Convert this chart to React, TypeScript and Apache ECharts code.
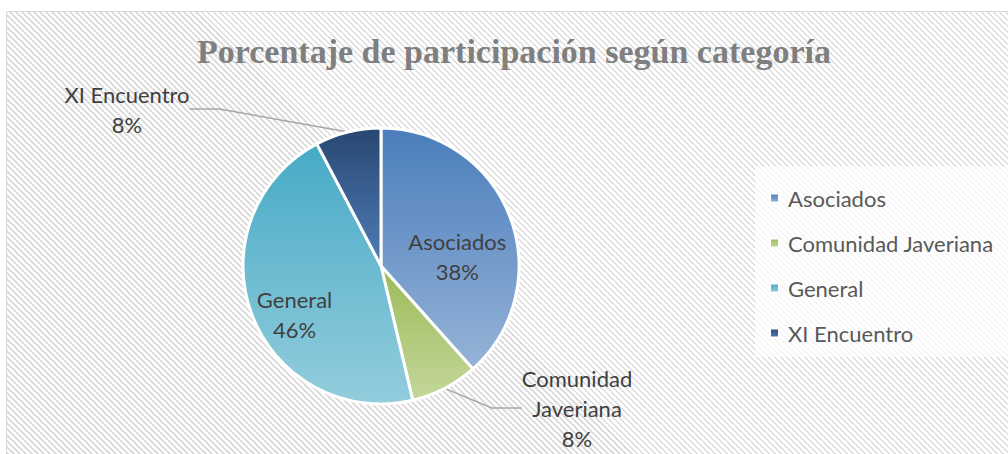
import React, { useEffect, useRef } from 'react';
import * as echarts from 'echarts';

const titleText = 'Porcentaje de participación según categoría';
const categories = ['Asociados', 'Comunidad Javeriana', 'General', 'XI Encuentro'];
const labelNames = ['Asociados', 'Comunidad\nJaveriana', 'General', 'XI Encuentro'];
const values = [38.4, 7.9, 46.0, 7.7];
const topColors = ['#4a7dbb', '#9bbb59', '#47aac5', '#284771'];
const bottomColors = ['#95b3d7', '#c4d79b', '#93cddd', '#4f7db8'];

const FONT = 'Lato';

export default function App() {
  const ref = useRef<HTMLDivElement>(null);

  useEffect(() => {
    if (!ref.current) return;
    const chart = echarts.init(ref.current, undefined, { renderer: 'svg' });

    const labelCfg: any[] = [
      { position: 'inside', offset: [9, 16] },
      { position: 'outside' },
      { position: 'inside', offset: [-19, 23] },
      { position: 'outside' },
    ];

    const data = categories.map((name, i) => ({
      name,
      value: values[i],
      itemStyle: {
        color: new echarts.graphic.LinearGradient(0, 0, 0, 1, [
          { offset: 0, color: topColors[i] },
          { offset: 1, color: bottomColors[i] },
        ]),
      },
      label: labelCfg[i],
    }));

    chart.setOption({
      animation: false,
      backgroundColor: 'transparent',
      title: {
        text: titleText,
        left: 192,
        top: 29,
        textStyle: {
          fontFamily: 'Liberation Serif',
          fontWeight: 'bold',
          fontSize: 34,
          color: '#7f7f7f',
        },
      },
      legend: {
        orient: 'vertical',
        left: 755,
        top: 166,
        padding: [20, 40, 12, 14],
        backgroundColor: 'rgba(255,255,255,0.7)',
        icon: 'rect',
        itemWidth: 9,
        itemHeight: 9,
        itemGap: 21,
        data: categories,
        textStyle: {
          fontFamily: FONT,
          fontSize: 22,
          lineHeight: 24,
          color: '#595959',
          padding: [0, 0, 0, 4],
        },
      },
      series: [
        {
          type: 'pie',
          center: [381, 266],
          radius: 138,
          startAngle: 90,
          clockwise: true,
          avoidLabelOverlap: false,
          itemStyle: { borderColor: '#ffffff', borderWidth: 3 },
          label: {
            show: true,
            fontFamily: FONT,
            fontSize: 22,
            lineHeight: 30,
            color: '#404040',
            align: 'center',
            formatter: (p: any) => `${labelNames[p.dataIndex]}\n${Math.round(p.percent)}%`,
          },
          labelLine: {
            show: true,
            lineStyle: { color: '#a6a6a6', width: 1.5 },
          },
          labelLayout: (p: any) => {
            if (p.dataIndex === 3) {
              return { x: 127, y: 109, align: 'center', verticalAlign: 'middle' };
            }
            if (p.dataIndex === 1) {
              return { x: 577, y: 408, align: 'center', verticalAlign: 'middle' };
            }
            return {};
          },
          data,
        },
      ],
    });

    return () => chart.dispose();
  }, []);

  return (
    <div style={{ position: 'fixed', left: 0, top: 0, width: 1008, height: 454, overflow: 'hidden', background: '#fff' }}>
      <div
        style={{
          position: 'absolute',
          left: 6,
          top: 11,
          width: 1020,
          height: 460,
          border: '1px solid #d9d9d9',
          background:
            'repeating-linear-gradient(45deg, #dedede 0px, #dedede 1.7px, #ffffff 1.7px, #ffffff 4.24px)',
        }}
      />
      <div ref={ref} style={{ position: 'absolute', left: 0, top: 0, width: 1008, height: 454 }} />
    </div>
  );
}
